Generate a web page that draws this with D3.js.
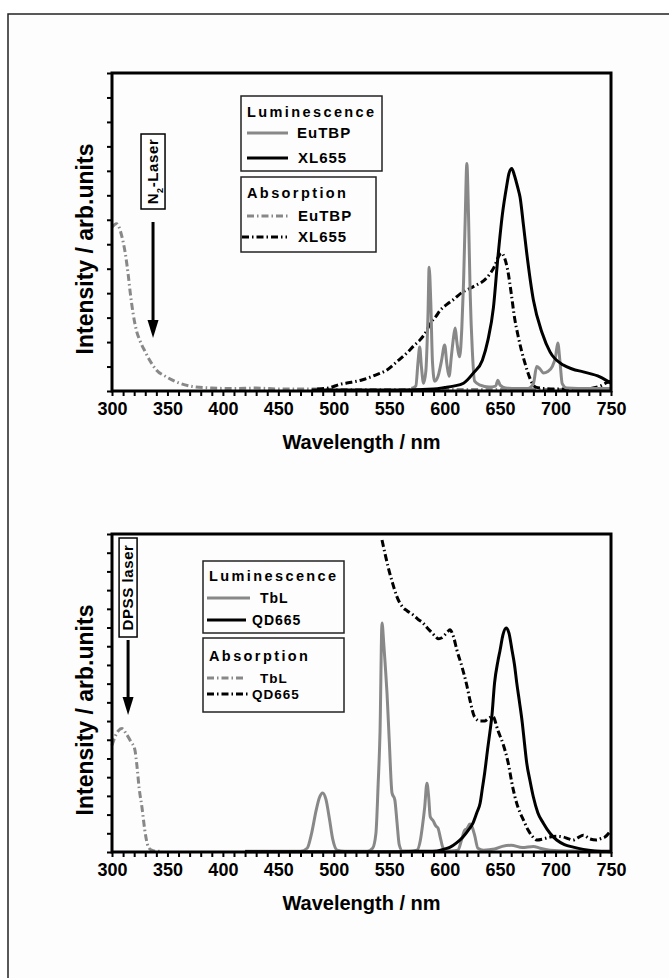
<!DOCTYPE html>
<html>
<head>
<meta charset="utf-8">
<script src="https://cdn.jsdelivr.net/npm/d3@7"></script>
<style>
  body { margin: 0; background: #fff; }
  svg { display: block; }
  text { font-family: "Liberation Sans", Arial, sans-serif; font-weight: bold; fill: #000; }
</style>
</head>
<body>
<svg width="669" height="978"></svg>
<script>
// ---- data (wavelength in nm, intensity in arb. units) ----
// top panel: EuTBP / XL655
const euAbsWl = [300, 304, 309, 312, 314.5, 316.5, 319, 322, 325, 330, 334, 340, 349, 361, 373, 390, 410, 430, 450, 480, 510, 550, 600, 650, 700, 750];
const euAbsI  = [3.35, 3.42, 3.15, 2.81, 2.4, 2.0, 1.59, 1.24, 1.04, 0.8, 0.63, 0.43, 0.29, 0.16, 0.09, 0.06, 0.05, 0.06, 0.04, 0.04, 0.03, 0.03, 0.03, 0.03, 0.03, 0.03];

const xlAbsWl = [485, 495, 506, 516, 526, 537, 548, 557, 566, 572, 578, 583, 587, 592, 596, 602, 608, 616, 623, 629, 635, 641, 645, 648, 651, 654, 657, 660, 663, 666, 669, 672, 675, 678, 682, 690, 700, 715, 730, 740, 746, 750];
const xlAbsI  = [0.04, 0.06, 0.14, 0.18, 0.23, 0.32, 0.43, 0.6, 0.78, 0.92, 1.05, 1.2, 1.38, 1.52, 1.65, 1.77, 1.87, 2.02, 2.1, 2.17, 2.25, 2.4, 2.55, 2.72, 2.82, 2.72, 2.45, 2.0, 1.5, 1.15, 0.85, 0.6, 0.38, 0.2, 0.08, 0.05, 0.04, 0.04, 0.05, 0.1, 0.17, 0.2];

const xlLumWl = [480, 560, 590, 600, 608, 617, 626, 634, 639, 644, 648, 652, 656, 658, 660.5, 663, 666, 668, 671, 674, 680, 688, 695, 707, 715, 725, 740, 750];
const xlLumI  = [0.02, 0.02, 0.04, 0.07, 0.1, 0.16, 0.37, 0.63, 1.04, 1.71, 2.73, 3.6, 4.2, 4.45, 4.55, 4.4, 4.15, 3.96, 3.4, 2.82, 1.86, 1.18, 0.8, 0.53, 0.45, 0.39, 0.29, 0.16];

const euLumWl = [570, 574, 576, 577.5, 579, 581, 583, 585, 586, 587.5, 589, 591, 594, 597, 600, 602, 604, 606, 608, 609.5, 611, 613.5, 615.5, 617, 618.5, 620, 621.5, 623, 625, 627, 632, 640, 646, 648, 650, 655, 665, 675, 680, 683, 686, 689, 693, 697, 700, 702, 704, 706, 710, 720, 735, 750];
const euLumI  = [0.05, 0.1, 0.6, 0.9, 0.5, 0.16, 0.4, 1.6, 2.53, 1.8, 0.6, 0.2, 0.3, 0.6, 0.94, 0.55, 0.3, 0.7, 1.1, 1.29, 1.0, 0.7, 1.3, 2.2, 3.5, 4.65, 3.6, 2.0, 0.8, 0.2, 0.12, 0.08, 0.1, 0.22, 0.12, 0.06, 0.05, 0.05, 0.15, 0.5, 0.45, 0.37, 0.4, 0.5, 0.7, 0.98, 0.6, 0.15, 0.06, 0.05, 0.05, 0.05];

// bottom panel: TbL / QD665
const tbAbsWl = [300, 303, 306, 309, 313, 317, 320.5, 322.5, 324.5, 327, 329.5, 332, 335, 340, 345];
const tbAbsI  = [2.85, 3.1, 3.25, 3.3, 3.15, 2.95, 2.75, 2.3, 1.7, 1.2, 0.6, 0.2, 0.06, 0.02, 0.02];

const tbLumWl = [420, 470, 476, 480, 484, 487, 490, 493, 496, 499, 503, 510, 530, 535, 538, 540, 541.7, 543.5, 545, 546.5, 548, 550, 552.5, 555, 557, 559, 562, 570, 575, 578, 580, 582, 584, 585.5, 587, 589.5, 592, 594, 596, 598, 600, 606, 612, 615, 618, 620, 622.8, 625, 627, 630, 635, 645, 652, 660, 670, 680, 686, 695, 710, 750];
const tbLumI  = [0.02, 0.02, 0.1, 0.5, 1.1, 1.45, 1.58, 1.4, 0.9, 0.35, 0.05, 0.02, 0.02, 0.1, 0.5, 1.8, 3.2, 6.12, 5.6, 4.95, 4.25, 3.0, 1.58, 1.4, 0.8, 0.2, 0.03, 0.03, 0.05, 0.3, 0.7, 1.2, 1.84, 1.5, 0.94, 0.84, 0.7, 0.64, 0.4, 0.15, 0.05, 0.03, 0.05, 0.3, 0.58, 0.62, 0.75, 0.65, 0.45, 0.1, 0.05, 0.08, 0.15, 0.18, 0.12, 0.15, 0.1, 0.05, 0.03, 0.03];

const qdLumWl = [420, 560, 580, 593, 600, 605, 611, 616.5, 621, 625.5, 629, 632, 634, 636, 639, 641, 642.5, 645, 648, 650, 652.5, 655.5, 658, 660.7, 663, 665, 667.5, 670, 672, 674, 677, 680, 684, 689, 695, 701, 708, 716, 725, 735, 750];
const qdLumI  = [0.01, 0.01, 0.02, 0.03, 0.08, 0.13, 0.25, 0.4, 0.57, 0.77, 1.05, 1.31, 1.7, 2.1, 2.81, 3.25, 3.61, 4.52, 5.1, 5.4, 5.8, 5.99, 5.85, 5.4, 5.0, 4.52, 4.0, 3.45, 2.9, 2.38, 1.9, 1.47, 1.05, 0.77, 0.5, 0.32, 0.2, 0.13, 0.07, 0.03, 0.01];

const qdAbsWl = [543.5, 546, 549, 553, 557, 562, 566, 571.5, 576, 580.5, 584, 588.5, 592, 594, 597, 600, 602.5, 604.7, 608, 611, 615.6, 620, 622.8, 627, 632, 636, 639, 643.5, 648, 652.5, 657, 661.6, 665, 668, 671, 675, 679, 683, 689, 695, 701, 707, 712, 715.7, 720, 725, 731, 737, 741, 744.5, 750];
const qdAbsI  = [8.34, 8.0, 7.62, 7.19, 6.82, 6.55, 6.45, 6.34, 6.22, 6.12, 6.0, 5.86, 5.75, 5.7, 5.72, 5.8, 5.88, 5.94, 5.75, 5.4, 4.95, 4.45, 4.06, 3.61, 3.5, 3.5, 3.56, 3.62, 3.25, 2.9, 2.42, 1.7, 1.3, 1.05, 0.86, 0.6, 0.42, 0.32, 0.35, 0.4, 0.42, 0.4, 0.35, 0.32, 0.38, 0.45, 0.35, 0.32, 0.36, 0.4, 0.58];

const xTicks = d3.range(300, 751, 10);
const lumNamesTop = ["EuTBP", "XL655"];
const absNamesTop = ["EuTBP", "XL655"];
const lumNamesBot = ["TbL", "QD665"];
const absNamesBot = ["TbL", "QD665"];

const GRAY = "#888888";
const DASHDOT = "7,3,1.5,3";

const svg = d3.select("svg");

// page frame
svg.append("rect").attr("x", 8).attr("y", 14).attr("width", 700).attr("height", 1000)
  .attr("fill", "#fdfdfd").attr("stroke", "#222").attr("stroke-width", 1.5);

function zip(wl, vals) { return wl.map((w, i) => ({ w: w, v: vals[i] })); }

function panel(cfg) {
  const x = d3.scaleLinear().domain([300, 750]).range([112, 611]);
  const y = d3.scaleLinear().domain([0, cfg.ymax]).range([cfg.bottom, cfg.top]);
  const g = svg.append("g");

  const line = d3.line().x(d => x(d.w)).y(d => y(d.v)).curve(d3.curveMonotoneX);

  cfg.series.forEach(s => {
    g.append("path")
      .datum(zip(s.wl, s.val))
      .attr("fill", "none")
      .attr("stroke", s.color)
      .attr("stroke-width", s.width || 3)
      .attr("stroke-dasharray", s.dash || null)
      .attr("stroke-linejoin", "round")
      .attr("d", line);
  });

  // axes
  const xAxis = d3.axisBottom(x).tickValues(xTicks).tickSize(5).tickPadding(6)
    .tickFormat(d => d % 50 === 0 ? d : "");
  const gx = g.append("g").attr("transform", "translate(0," + cfg.bottom + ")").call(xAxis);
  gx.select(".domain").remove();
  gx.selectAll("line").attr("stroke-width", 2);
  gx.selectAll("text").style("font-size", "18px").style("font-family", '"Liberation Sans", Arial, sans-serif').style("font-weight", "bold");

  const yAxis = d3.axisLeft(y).tickValues(d3.range(0, cfg.ymax + 0.01, cfg.minor)).tickSize(5).tickFormat("");
  const gy = g.append("g").attr("transform", "translate(112,0)").call(yAxis);
  gy.select(".domain").remove();
  gy.selectAll("line").attr("stroke-width", 2);

  // plot frame
  g.append("rect").attr("x", 112).attr("y", cfg.top).attr("width", 499).attr("height", cfg.bottom - cfg.top)
    .attr("fill", "none").attr("stroke", "#000").attr("stroke-width", 3);

  // titles
  g.append("text").attr("x", 361.5).attr("y", cfg.bottom + 58).attr("text-anchor", "middle")
    .style("font-size", "20px").text("Wavelength / nm");
  g.append("text").attr("transform", "translate(93," + cfg.ylabelY + ") rotate(-90)")
    .attr("text-anchor", "middle").style("font-size", "23px").text("Intensity / arb.units");

  // laser arrow
  const ax = x(cfg.laser.wl);
  const b = cfg.laser.box;
  g.append("rect").attr("x", ax - b.w / 2).attr("y", b.y0).attr("width", b.w).attr("height", b.y1 - b.y0)
    .attr("fill", "#fff").attr("stroke", "#000").attr("stroke-width", 1.5);
  const lt = g.append("text").attr("transform", "translate(" + (ax + 5) + "," + ((b.y0 + b.y1) / 2) + ") rotate(-90)")
    .attr("text-anchor", "middle").style("font-size", cfg.laser.size + "px").style("letter-spacing", cfg.laser.ls + "px");
  cfg.laser.parts.forEach(p => {
    const t = lt.append("tspan").text(p.t);
    if (p.sub) t.attr("baseline-shift", "sub").style("font-size", "9px");
  });
  g.append("line").attr("x1", ax).attr("x2", ax).attr("y1", cfg.laser.a0).attr("y2", cfg.laser.a1 - 12)
    .attr("stroke", "#000").attr("stroke-width", 3);
  g.append("path").attr("d", "M" + (ax - 5.5) + "," + (cfg.laser.a1 - 18) + "L" + (ax + 5.5) + "," + (cfg.laser.a1 - 18) + "L" + ax + "," + cfg.laser.a1 + "Z")
    .attr("fill", "#000");

  // legends
  cfg.legends.forEach(L => {
    g.append("rect").attr("x", L.x0).attr("y", L.y0).attr("width", L.x1 - L.x0).attr("height", L.y1 - L.y0)
      .attr("fill", "none").attr("stroke", "#222").attr("stroke-width", 1.5);
    g.append("text").attr("x", L.x0 + 6).attr("y", L.titleY).style("font-size", "14.5px")
      .style("letter-spacing", "2.4px").text(L.title);
    L.items.forEach(it => {
      g.append("line").attr("x1", it.lx0).attr("x2", it.lx1).attr("y1", it.ly).attr("y2", it.ly)
        .attr("stroke", it.color).attr("stroke-width", 3).attr("stroke-dasharray", it.dash || null);
      g.append("text").attr("x", it.tx).attr("y", it.ly + 5).style("font-size", L.itemSize + "px")
        .style("letter-spacing", "1px").text(it.name);
    });
  });
}

panel({
  top: 73, bottom: 391, ymax: 6.5, minor: 0.5, ylabelY: 249,
  series: [
    { wl: euAbsWl, val: euAbsI, color: GRAY, dash: DASHDOT },
    { wl: xlAbsWl, val: xlAbsI, color: "#000", dash: DASHDOT },
    { wl: euLumWl, val: euLumI, color: GRAY },
    { wl: xlLumWl, val: xlLumI, color: "#000" }
  ],
  laser: { wl: 337, box: { w: 24, y0: 134, y1: 209 }, a0: 222, a1: 338, size: 15, ls: 0.6,
           parts: [{ t: "N" }, { t: "2", sub: true }, { t: "-Laser" }] },
  legends: [
    { x0: 241, x1: 382, y0: 96, y1: 171, title: "Luminescence", titleY: 117, itemSize: 15,
      items: [
        { name: lumNamesTop[0], color: GRAY, lx0: 247, lx1: 288, ly: 133, tx: 297 },
        { name: lumNamesTop[1], color: "#000", lx0: 247, lx1: 288, ly: 158, tx: 298 }
      ] },
    { x0: 241, x1: 376, y0: 177, y1: 252, title: "Absorption", titleY: 198, itemSize: 15,
      items: [
        { name: absNamesTop[0], color: GRAY, dash: DASHDOT, lx0: 247, lx1: 288, ly: 216, tx: 298 },
        { name: absNamesTop[1], color: "#000", dash: DASHDOT, lx0: 242, lx1: 287, ly: 237, tx: 298 }
      ] }
  ]
});

panel({
  top: 534, bottom: 852, ymax: 8.5, minor: 0.5, ylabelY: 710,
  series: [
    { wl: tbAbsWl, val: tbAbsI, color: GRAY, dash: DASHDOT },
    { wl: qdAbsWl, val: qdAbsI, color: "#000", dash: DASHDOT },
    { wl: tbLumWl, val: tbLumI, color: GRAY },
    { wl: qdLumWl, val: qdLumI, color: "#000" }
  ],
  laser: { wl: 314.5, box: { w: 18, y0: 538, y1: 637 }, a0: 640, a1: 715, size: 15, ls: 0.6,
           parts: [{ t: "DPSS laser" }] },
  legends: [
    { x0: 203, x1: 344, y0: 561, y1: 633, title: "Luminescence", titleY: 581, itemSize: 14,
      items: [
        { name: lumNamesBot[0], color: GRAY, lx0: 207, lx1: 250, ly: 598, tx: 260 },
        { name: lumNamesBot[1], color: "#000", lx0: 207, lx1: 246, ly: 620, tx: 252 }
      ] },
    { x0: 203, x1: 344, y0: 638, y1: 712, title: "Absorption", titleY: 661, itemSize: 13.5,
      items: [
        { name: absNamesBot[0], color: GRAY, dash: DASHDOT, lx0: 207, lx1: 246, ly: 678, tx: 260 },
        { name: absNamesBot[1], color: "#000", dash: DASHDOT, lx0: 207, lx1: 250, ly: 694, tx: 252 }
      ] }
  ]
});
</script>
</body>
</html>
